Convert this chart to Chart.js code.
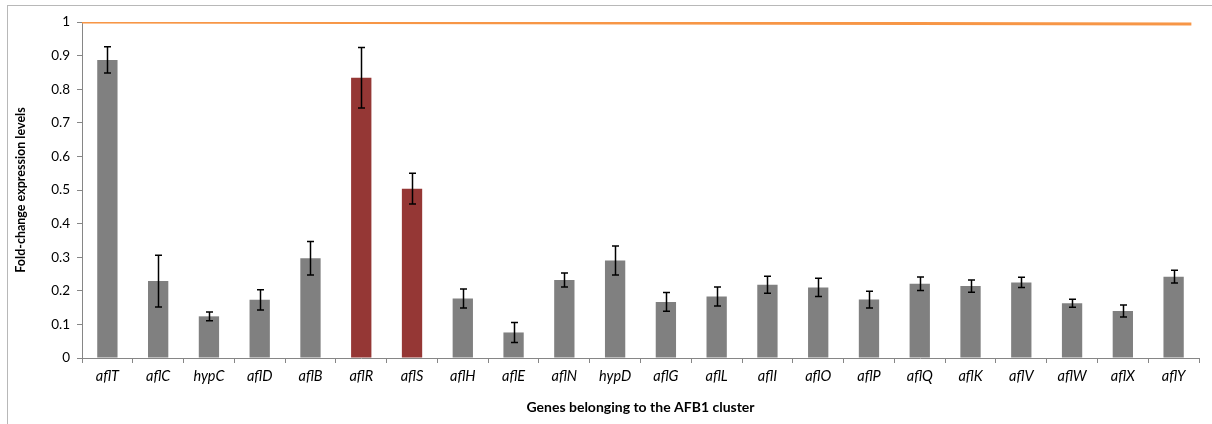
<!DOCTYPE html>
<html>
<head>
<meta charset="utf-8">
<script src="https://cdn.jsdelivr.net/npm/chart.js@4.4.1/dist/chart.umd.min.js"></script>
<style>
  html, body { margin: 0; padding: 0; background: #fff; overflow: hidden; }
  #wrap { position: relative; width: 1212px; height: 424px; }
  #frame { position: absolute; left: 7px; top: 5px; width: 1210px; height: 430px; border: 1px solid #b8b8b8; box-sizing: border-box; pointer-events: none; }
  canvas { position: absolute; left: 0; top: 0; }
</style>
</head>
<body>
<div id="wrap">
  <canvas id="c" width="1212" height="424"></canvas>
  <div id="frame"></div>
</div>
<script>
const genes = ['aflT','aflC','hypC','aflD','aflB','aflR','aflS','aflH','aflE','aflN','hypD','aflG','aflL','aflI','aflO','aflP','aflQ','aflK','aflV','aflW','aflX','aflY'];
const foldChange = [0.887,0.229,0.124,0.173,0.297,0.834,0.504,0.177,0.076,0.232,0.290,0.167,0.183,0.218,0.210,0.174,0.221,0.214,0.225,0.163,0.140,0.242];
const errors = [0.039,0.077,0.013,0.030,0.050,0.090,0.046,0.028,0.030,0.021,0.043,0.028,0.028,0.025,0.027,0.025,0.020,0.018,0.015,0.012,0.018,0.019];
const highlighted = ['aflR','aflS'];
const referenceX = [0, 21.85];
const referenceY = [1, 0.994];
const yTicks = [0,0.1,0.2,0.3,0.4,0.5,0.6,0.7,0.8,0.9,1];

const GRAY = '#808080';
const RED = '#953735';
const AXIS = '#868686';

const errorBarPlugin = {
  id: 'errorBars',
  afterDatasetsDraw(chart) {
    const meta = chart.getDatasetMeta(0);
    const y = chart.scales.y;
    const ctx = chart.ctx;
    ctx.save();
    ctx.strokeStyle = '#000';
    ctx.lineWidth = 1.5;
    meta.data.forEach((bar, i) => {
      const v = foldChange[i], e = errors[i];
      const top = y.getPixelForValue(v + e);
      const bot = y.getPixelForValue(v - e);
      const x = Math.round(bar.x) + 0.5;
      ctx.beginPath();
      ctx.moveTo(x, top); ctx.lineTo(x, bot);
      ctx.moveTo(x - 3.5, top); ctx.lineTo(x + 3.5, top);
      ctx.moveTo(x - 3.5, bot); ctx.lineTo(x + 3.5, bot);
      ctx.stroke();
    });
    ctx.restore();
  }
};

function build() {
  new Chart(document.getElementById('c'), {
    type: 'bar',
    data: {
      labels: genes,
      datasets: [
        {
          type: 'bar',
          data: foldChange,
          backgroundColor: genes.map(g => highlighted.includes(g) ? RED : GRAY),
          borderWidth: 0,
          grouped: false,
          categoryPercentage: 1,
          barPercentage: 0.4,
          xAxisID: 'x',
          order: 2
        },
        {
          type: 'line',
          data: referenceX.map((x, i) => ({ x: x, y: referenceY[i] })),
          borderColor: '#f79646',
          borderWidth: 3,
          pointRadius: 0,
          fill: false,
          xAxisID: 'x2',
          order: 1
        }
      ]
    },
    options: {
      responsive: false,
      animation: false,
      events: [],
      layout: { padding: { top: 22, right: 13, bottom: 0, left: 0 } },
      plugins: { legend: { display: false }, tooltip: { enabled: false } },
      scales: {
        x: {
          type: 'category',
          offset: true,
          grid: { display: true, drawOnChartArea: false, drawTicks: true, tickLength: 5, color: AXIS, offset: true },
          border: { display: true, color: AXIS, width: 1 },
          ticks: { color: '#000', font: { family: 'Lato', size: 14.5, style: 'italic' }, padding: 5, maxRotation: 0, autoSkip: false },
          title: { display: true, text: 'Genes belonging to the AFB1 cluster', color: '#000', font: { family: 'Lato', size: 14, weight: 'bold' }, padding: { top: 2, bottom: 8 } },
          afterFit(s) { s.height = 66; }
        },
        x2: {
          type: 'linear',
          display: false,
          offset: false,
          grid: { offset: false },
          min: 0,
          max: 22
        },
        y: {
          min: 0,
          max: 1,
          afterBuildTicks(s) { s.ticks = yTicks.map(v => ({ value: v })); },
          grid: { display: true, drawOnChartArea: false, drawTicks: true, tickLength: 5, color: AXIS },
          border: { display: true, color: AXIS, width: 1 },
          ticks: { color: '#000', font: { family: 'Lato', size: 13.5 }, padding: 7, callback: v => String(v) },
          title: { display: true, text: 'Fold-change expression levels', color: '#000', font: { family: 'Lato', size: 12.5, weight: 'bold' }, padding: { top: 13, bottom: 0 } },
          afterFit(s) { s.width = 82; }
        }
      }
    },
    plugins: [errorBarPlugin]
  });
}

Promise.all([
  document.fonts.load('13px Lato'),
  document.fonts.load('bold 13px Lato'),
  document.fonts.load('italic 13px Lato')
]).then(build, build);
</script>
</body>
</html>
